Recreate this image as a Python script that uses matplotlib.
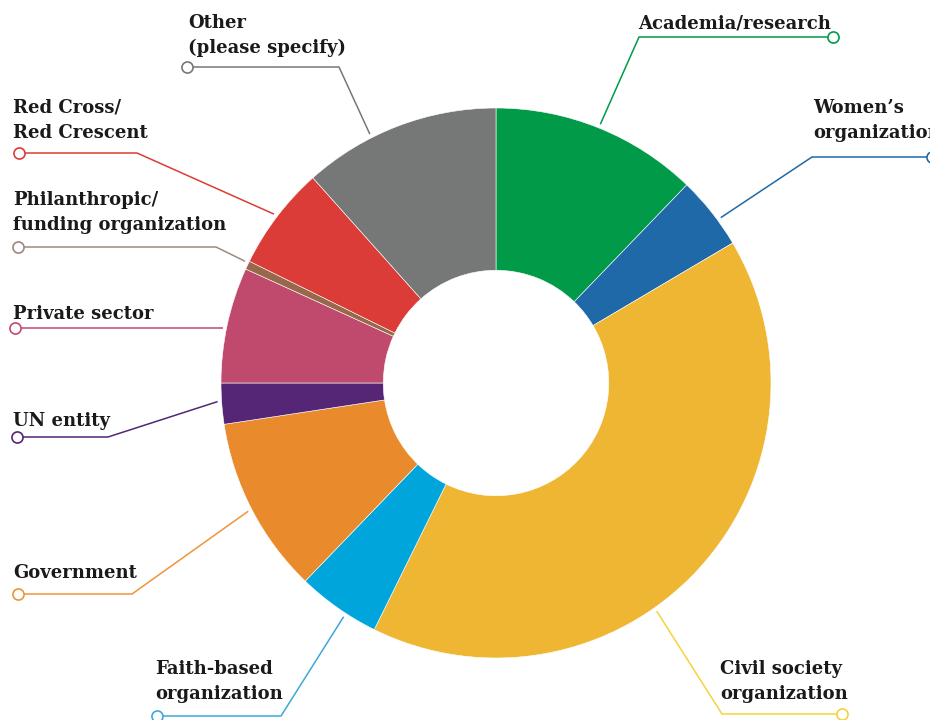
import numpy as np
import matplotlib
matplotlib.use("Agg")
import matplotlib.pyplot as plt

# Share of respondents by organization type (%)
categories = [
    "Academia/research", "Women\u2019s\norganization", "Civil society\norganization",
    "Faith-based\norganization", "Government", "UN entity", "Private sector",
    "Philanthropic/\nfunding organization", "Red Cross/\nRed Crescent",
    "Other\n(please specify)",
]
shares = [12.2, 4.3, 40.8, 4.9, 10.4, 2.4, 6.8, 0.5, 6.1, 11.6]
colors = ["#009a49", "#1f69a8", "#efb633", "#00a5dc", "#e98b2c",
          "#542675", "#c04a6e", "#97694a", "#dc3c37", "#767877"]
line_colors = ["#009a49", "#1f69a8", "#f5d33c", "#3aa9d8", "#f0943a",
               "#542675", "#c04a6e", "#9b8a80", "#dc3c37", "#767877"]

W, H = 930, 720
CX, CY, R = 496, H - 383, 275

fig = plt.figure(figsize=(W / 100, H / 100), dpi=100)
ax = fig.add_axes([0, 0, 1, 1])

wedges, _ = ax.pie(shares, colors=colors, startangle=90, counterclock=False,
                   center=(CX, CY), radius=R,
                   wedgeprops=dict(width=R * 0.59, edgecolor="white", linewidth=0.4))
ax.set_xlim(0, W)
ax.set_ylim(0, H)
ax.set_aspect("equal")
ax.axis("off")

# label layout (pixel coords, y from top): text x, last-line baseline y,
# circle x, elbow x, leader y, angle offset from slice middle
layout = [
    (638, 29, 833, 639, 37, 0),
    (813, 138, 932, 812, 157, -2),
    (720, 699, 842, 722, 714, -12),
    (155, 699, 157, 281, 716, 2),
    (13, 578, 18, 132, 594, 0),
    (13, 426, 17, 108, 437, -0.5),
    (13, 319, 15, 220, 328, 0.8),
    (13, 230, 18, 216, 247, -0.5),
    (13, 138, 19, 137, 153, 0),
    (188, 53, 187, 339, 67, 6),
]

for w, label, lc, (tx, ty, cx, ex, ly, off) in zip(wedges, categories, line_colors, layout):
    mid = np.deg2rad((w.theta1 + w.theta2) / 2 + off)
    px = CX + (R + 4) * np.cos(mid)
    py = CY + (R + 4) * np.sin(mid)
    if abs(ex - px) < 3:
        xs, ys = [cx, px], [H - ly, H - ly]
    else:
        xs, ys = [cx, ex, px], [H - ly, H - ly, py]
    ax.plot(xs, ys, color=lc, lw=1.1, solid_capstyle="butt", zorder=1)
    ax.plot([cx], [H - ly], "o", ms=8, mfc="white", mec=lc, mew=1.2, zorder=3,
            clip_on=False)
    ax.text(tx, H - ty, label, ha="left", va="baseline", fontsize=13,
            fontweight="bold", family="DejaVu Serif", color="#1a1a1a",
            linespacing=1.5)

fig.savefig("out.png", dpi=100, facecolor="white")
